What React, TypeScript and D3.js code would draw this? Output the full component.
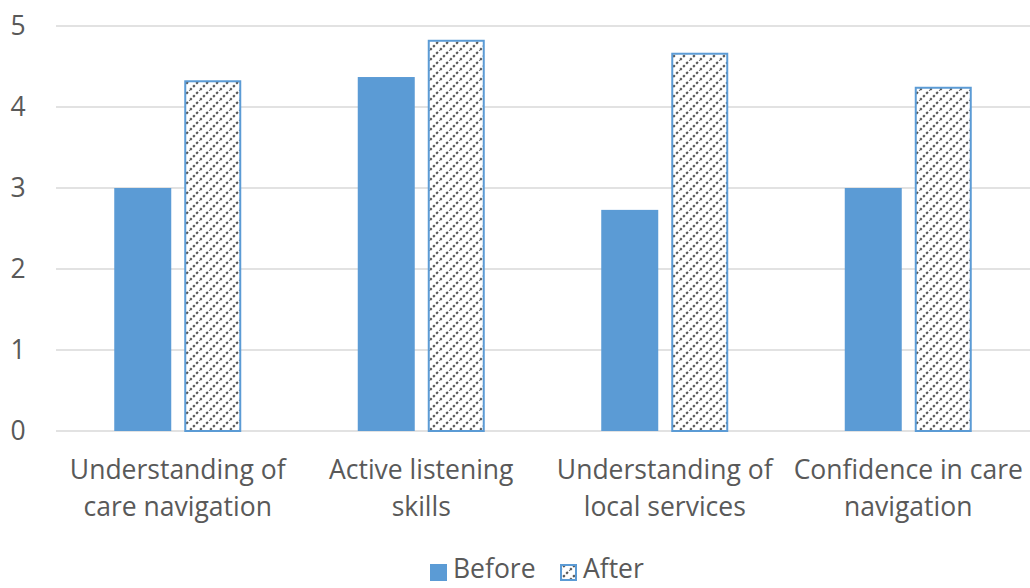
import React from "react";
import * as d3 from "d3";

const categories: string[][] = [
  ["Understanding of", "care navigation"],
  ["Active listening", "skills"],
  ["Understanding of", "local services"],
  ["Confidence in care", "navigation"],
];
const beforeValues = [3.0, 4.37, 2.73, 3.0];
const afterValues = [4.33, 4.83, 4.67, 4.25];
const yTicks = [0, 1, 2, 3, 4, 5];
const seriesNames = ["Before", "After"];

const W = 1030;
const H = 588;
const blue = "#5B9BD5";
const textColor = "#595959";
const font = "'Open Sans', 'Noto Sans', sans-serif";
const fs = 26.5;

export default function App() {
  const left = 56;
  const right = 1030;
  const top = 26;
  const bottom = 431;
  const x = d3.scaleBand<number>().domain(d3.range(categories.length)).range([left, right]).paddingInner(0).paddingOuter(0);
  const y = d3.scaleLinear().domain([0, 5]).range([bottom, top]);
  const barW = 57;
  const gap = 13;

  return (
    <svg width={W} height={H} style={{ position: "absolute", left: 0, top: 0, background: "#fff" }}>
      <defs>
        <pattern id="diag" patternUnits="userSpaceOnUse" width={10} height={10}>
          <rect width={10} height={10} fill="#fff" />
          <path d="M-3,3 L3,-3 M0,10 L10,0 M7,13 L13,7" stroke="#555" strokeWidth={2.2} strokeDasharray="2.4,2" />
        </pattern>
      </defs>
      {yTicks.map((t) => (
        <g key={t}>
          <line x1={left} x2={right} y1={y(t)} y2={y(t)} stroke="#D9D9D9" strokeWidth={1.5} />
          <text x={18} y={y(t)} dy="0.35em" textAnchor="middle" fontFamily={font} fontSize={fs} fill={textColor}>
            {t}
          </text>
        </g>
      ))}
      {categories.map((c, i) => {
        const cx = (x(i) as number) + x.bandwidth() / 2;
        const bx = cx - gap / 2 - barW;
        const ax = cx + gap / 2;
        return (
          <g key={i}>
            <rect x={bx} y={y(beforeValues[i])} width={barW} height={y(0) - y(beforeValues[i])} fill={blue} />
            <rect
              x={ax + 1}
              y={y(afterValues[i]) + 1}
              width={barW - 2}
              height={y(0) - y(afterValues[i]) - 1}
              fill="url(#diag)"
              stroke={blue}
              strokeWidth={2}
            />
            {c.map((line, j) => (
              <text key={j} x={cx} y={470 + j * 37} dy="0.35em" textAnchor="middle" fontFamily={font} fontSize={fs} fill={textColor}>
                {line}
              </text>
            ))}
          </g>
        );
      })}
      <g>
        <rect x={430} y={564} width={17} height={17} fill={blue} />
        <text x={453} y={569} dy="0.35em" fontFamily={font} fontSize={fs} fill={textColor}>
          {seriesNames[0]}
        </text>
        <rect x={561} y={565} width={15} height={15} fill="url(#diag)" stroke={blue} strokeWidth={2} />
        <text x={583} y={569} dy="0.35em" fontFamily={font} fontSize={fs} fill={textColor}>
          {seriesNames[1]}
        </text>
      </g>
    </svg>
  );
}
